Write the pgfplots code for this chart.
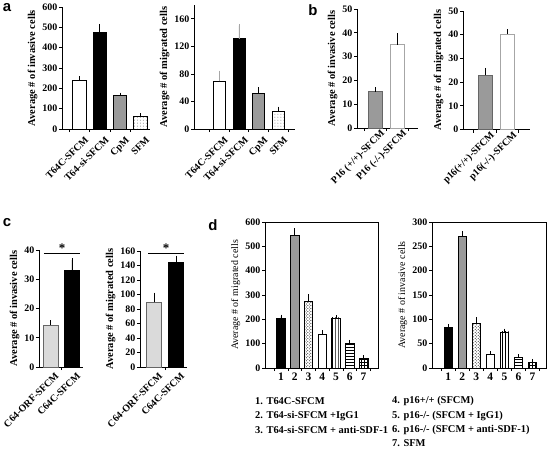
\documentclass[border=0pt]{standalone}
\usepackage{fontspec}
\setmainfont{Liberation Serif}
\newfontfamily\sansf{Liberation Sans}
\usepackage{pgfplots}
\pgfplotsset{compat=1.18}
\usetikzlibrary{patterns}

\definecolor{bargray}{HTML}{9A9A9A}
\definecolor{lightg}{HTML}{DADADA}

\newcommand{\fs}{\fontsize{10.5}{12}\selectfont\bfseries}
\newcommand{\ft}{\fontsize{10}{12}\selectfont\bfseries}

\pgfplotsset{
  panel/.style={
    scale only axis, anchor=south west,
    axis lines*=left, axis line style={line width=0.8pt},
    tick align=outside, major tick length=3bp, minor tick length=3bp,
    tick style={black, line width=0.7pt},
    major x tick style={draw=none},
    ymin=0, clip=false,
    /pgf/number format/assume math mode=true,
    yticklabel style={font=\ft, inner sep=1.5pt},
    ylabel style={font=\fs},
    scaled y ticks=false,
  },
  rotlab/.style={xticklabel style={font=\ft, rotate=45, anchor=north east, inner sep=1pt, xshift=#1}},
  rotlab/.default={2bp},
  mybar/.style={ybar, bar shift=0pt, draw=black, line width=0.6pt},
  eb/.style={error bars/.cd, y dir=plus, y explicit, error mark=-,
    error bar style={line width=0.6pt, black},
    error mark options={line width=0.6pt, mark size=1.8bp, black}},
  ebg/.style={error bars/.cd, y dir=plus, y explicit, error mark=-,
    error bar style={line width=0.6pt, gray!70},
    error mark options={line width=0.6pt, mark size=1.8bp, gray!70}},
}

\begin{document}
\begin{tikzpicture}
\useasboundingbox (0,0) rectangle (548bp,-449bp);

% ---------- panel a ----------
\node[font=\sansf\bfseries\fontsize{15}{15}\selectfont] at (7bp,-8bp) {a};
\begin{axis}[panel, rotlab, xticklabel style={yshift=-5bp},
  at={(62bp,-129bp)}, width=88bp, height=122bp,
  xmin=-0.85, xmax=3.47, ymax=600, ytick={0,100,...,600},
  xtick={0,1,2,3}, xticklabels={T64C-SFCM,T64-si-SFCM,CpM,SFM},
  minor xtick={-0.5,0.5,1.5,2.5}, bar width=13.3bp,
  ylabel={Average \# of invasive cells}]
\addplot[mybar, fill=white, eb] coordinates {(0,240) +- (0,10)};
\addplot[mybar, fill=black, eb] coordinates {(1,478) +- (0,30)};
\addplot[mybar, fill=bargray, eb] coordinates {(2,164) +- (0,6)};
\addplot[mybar, fill=white, postaction={pattern=dots, pattern color=gray}, eb] coordinates {(3,62) +- (0,7)};
\end{axis}

\begin{axis}[panel, rotlab, xticklabel style={yshift=-5bp},
  at={(194bp,-129bp)}, width=101bp, height=124bp,
  xmin=-1.26, xmax=3.83, ymax=180, ytick={0,40,...,160},
  xtick={0,1,2,3}, xticklabels={T64C-SFCM,T64-si-SFCM,CpM,SFM},
  minor xtick={-0.5,0.5,1.5,2.5,3.5}, bar width=12bp,
  ylabel={Average \# of migrated cells}]
\addplot[mybar, fill=white, ebg] coordinates {(0,69) +- (0,13)};
\addplot[mybar, fill=black, ebg] coordinates {(1,131) +- (0,19)};
\addplot[mybar, fill=bargray, eb] coordinates {(2,52) +- (0,6)};
\addplot[mybar, fill=white, postaction={pattern=dots, pattern color=gray}, eb] coordinates {(3,26) +- (0,4)};
\end{axis}

% ---------- panel b ----------
\node[font=\sansf\bfseries\fontsize{15}{15}\selectfont] at (313bp,-10bp) {b};
\begin{axis}[panel, rotlab=6bp, xticklabel style={yshift=-1bp},
  at={(357bp,-128bp)}, width=61bp, height=119bp,
  xmin=-0.82, xmax=1.95, ymax=50, ytick={0,10,...,50},
  xtick={0,1}, xticklabels={P16 (+/+)-SFCM,P16 (-/-)-SFCM},
  minor xtick={-0.5,0.5,1.5}, bar width=14bp,
  ylabel={Average \# of invasive cells}]
\addplot[mybar, fill=bargray, draw=gray!80!black, eb] coordinates {(0,15.3) +- (0,1)};
\addplot[mybar, fill=white, draw=gray!70, eb] coordinates {(1,35) +- (0,4)};
\end{axis}

\begin{axis}[panel, rotlab=6bp, xticklabel style={yshift=-1bp},
  at={(463bp,-129.5bp)}, width=67bp, height=118.5bp,
  xmin=-0.98, xmax=2.0, ymax=50, ytick={0,10,...,50},
  xtick={0,1}, xticklabels={p16(+/+)-SFCM,p16(-/-)-SFCM},
  minor xtick={-0.5,0.5,1.5}, bar width=14bp,
  ylabel={Average \# of migrated cells}]
\addplot[mybar, fill=bargray, draw=gray!80!black, eb] coordinates {(0,22.8) +- (0,2.4)};
\addplot[mybar, fill=white, draw=gray!70, eb] coordinates {(1,40.3) +- (0,1.3)};
\end{axis}

% ---------- panel c ----------
\node[font=\sansf\bfseries\fontsize{15}{15}\selectfont] at (7bp,-223bp) {c};
\begin{axis}[panel, rotlab=3bp, xticklabel style={yshift=-3bp},
  at={(39bp,-367bp)}, width=44bp, height=117bp,
  xmin=-0.53, xmax=1.51, ymax=40, ytick={0,10,...,40},
  xtick={0,1}, xticklabels={C64-ORF-SFCM,C64C-SFCM},
  minor xtick={0.5}, bar width=15bp,
  ylabel={Average \# of invasive cells}]
\addplot[mybar, fill=lightg, draw=gray!80!black, eb] coordinates {(0,14.3) +- (0,1)};
\addplot[mybar, fill=black, eb] coordinates {(1,33) +- (0,3.6)};
\draw[line width=0.8pt] (axis cs:-0.3,39) -- (axis cs:1.37,39);
\node[anchor=base, font=\fontsize{13}{13}\selectfont\bfseries, inner sep=0pt] at (axis cs:0.54,39.3) {*};
\end{axis}

\begin{axis}[panel, rotlab=3bp, xticklabel style={yshift=-3bp},
  at={(140bp,-367bp)}, width=47bp, height=116bp,
  xmin=-0.64, xmax=1.5, ymax=160, ytick={0,20,...,160},
  xtick={0,1}, xticklabels={C64-ORF-SFCM,C64C-SFCM},
  minor xtick={0.5}, bar width=15bp,
  ylabel={Average \# of migrated cells}]
\addplot[mybar, fill=lightg, draw=gray!80!black, eb] coordinates {(0,89) +- (0,11)};
\addplot[mybar, fill=black, eb] coordinates {(1,144) +- (0,7)};
\draw[line width=0.8pt] (axis cs:-0.27,157) -- (axis cs:1.36,157);
\node[anchor=base, font=\fontsize{13}{13}\selectfont\bfseries, inner sep=0pt] at (axis cs:0.55,158) {*};
\end{axis}

% ---------- panel d ----------
\node[font=\sansf\bfseries\fontsize{15}{15}\selectfont] at (213bp,-225bp) {d};
\begin{axis}[panel, axis lines=box, xtick pos=bottom, ytick pos=left,
  at={(265bp,-368bp)}, width=113bp, height=146bp,
  xmin=-0.16, xmax=8.05, ymax=600, ytick={0,100,...,600},
  xtick={1,...,7}, xticklabels={1,2,3,4,5,6,7},
  xticklabel style={anchor=north, font=\fontsize{11.5}{12}\selectfont\bfseries, inner sep=2pt},
  minor xtick={0.5,1.5,...,7.5}, bar width=8.5bp,
  ylabel={Average \# of migrated cells}]
\addplot[mybar, fill=black, eb] coordinates {(1,206) +- (0,6)};
\addplot[mybar, fill=bargray, eb] coordinates {(2,547) +- (0,20)};
\addplot[mybar, fill=white, postaction={pattern=crosshatch dots}, eb] coordinates {(3,275) +- (0,20)};
\addplot[mybar, fill=white, eb] coordinates {(4,140) +- (0,7)};
\addplot[mybar, fill=white, postaction={pattern=vertical lines}, eb] coordinates {(5,206) +- (0,4)};
\addplot[mybar, fill=white, postaction={pattern=horizontal lines}, eb] coordinates {(6,101) +- (0,7)};
\addplot[mybar, fill=white, postaction={pattern=grid}, eb] coordinates {(7,38) +- (0,7)};
\end{axis}

\begin{axis}[panel, axis lines=box, xtick pos=bottom, ytick pos=left,
  at={(432bp,-368bp)}, width=114bp, height=146bp,
  xmin=-0.15, xmax=7.96, ymax=300, ytick={0,50,...,300},
  xtick={1,...,7}, xticklabels={1,2,3,4,5,6,7},
  xticklabel style={anchor=north, font=\fontsize{11.5}{12}\selectfont\bfseries, inner sep=2pt},
  minor xtick={0.5,1.5,...,7.5}, bar width=8.5bp,
  ylabel={Average \# of invasive cells}]
\addplot[mybar, fill=black, eb] coordinates {(1,83) +- (0,4)};
\addplot[mybar, fill=bargray, eb] coordinates {(2,270) +- (0,8)};
\addplot[mybar, fill=white, postaction={pattern=crosshatch dots}, eb] coordinates {(3,92) +- (0,9)};
\addplot[mybar, fill=white, eb] coordinates {(4,29) +- (0,2)};
\addplot[mybar, fill=white, postaction={pattern=vertical lines}, eb] coordinates {(5,74) +- (0,3)};
\addplot[mybar, fill=white, postaction={pattern=horizontal lines}, eb] coordinates {(6,21) +- (0,4)};
\addplot[mybar, fill=white, postaction={pattern=grid}, eb] coordinates {(7,12) +- (0,3)};
\end{axis}

% legend text of panel d
\begin{scope}[every node/.style={anchor=west, font=\fs, inner sep=0pt}]
\node at (255bp,-401bp) {1. T64C-SFCM};
\node at (255bp,-416bp) {2. T64-si-SFCM +IgG1};
\node at (255bp,-430bp) {3. T64-si-SFCM + anti-SDF-1};
\node at (392bp,-401bp) {4. p16+/+ (SFCM)};
\node at (392bp,-416bp) {5. p16-/- (SFCM + IgG1)};
\node at (392bp,-430bp) {6. p16-/- (SFCM + anti-SDF-1)};
\node at (392bp,-443bp) {7. SFM};
\end{scope}
\end{tikzpicture}
\end{document}
